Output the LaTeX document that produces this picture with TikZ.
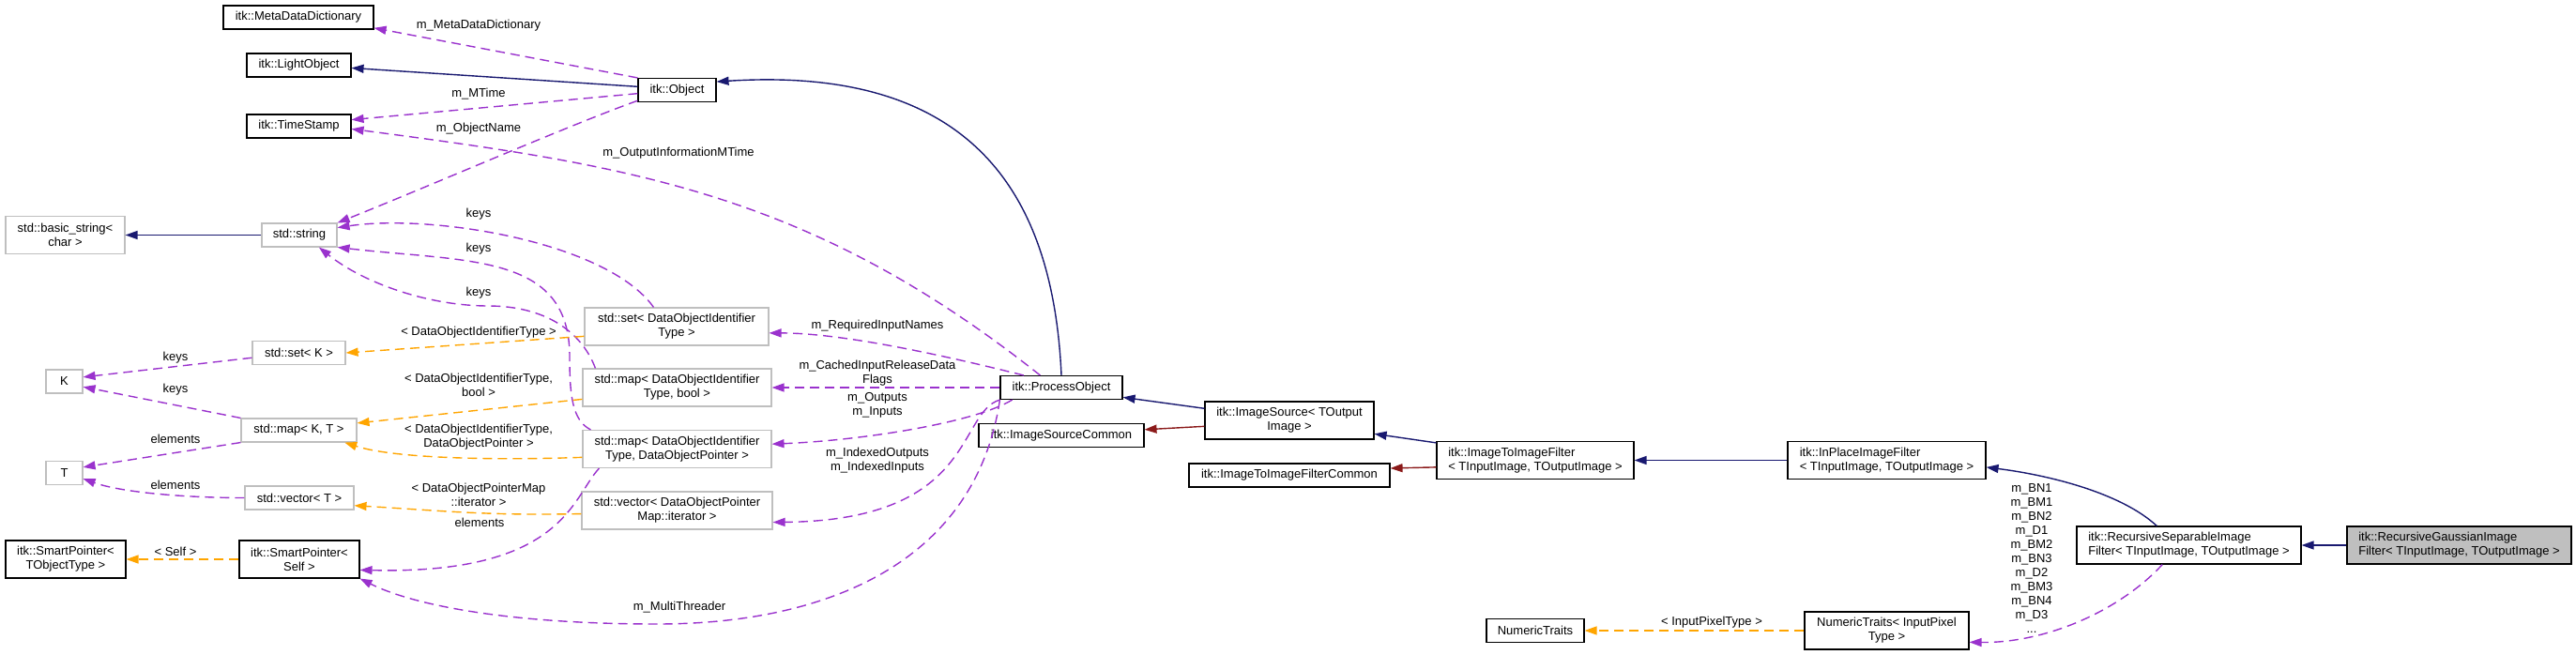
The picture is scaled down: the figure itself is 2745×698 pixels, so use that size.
\documentclass[tikz,border=0pt]{standalone}
\usepackage{fontspec}
\setmainfont{Liberation Sans}
\usetikzlibrary{arrows.meta,calc}
\definecolor{dxNavy}{HTML}{191970}
\definecolor{dxViolet}{HTML}{9A32CD}
\definecolor{dxOrange}{HTML}{FFA500}
\definecolor{dxRed}{HTML}{8B1A1A}
\definecolor{dxGrey}{HTML}{BFBFBF}
\tikzset{
  cls/.style     ={draw=black,fill=white,line width=1.1pt,inner sep=0pt,align=center,
                   minimum height=25},
  cls2/.style    ={cls,minimum height=40},
  ext/.style     ={cls,draw=dxGrey},
  ext2/.style    ={cls2,draw=dxGrey},
  dxtip/.style   ={-{Triangle[length=13pt,width=9pt]}},
  inh/.style     ={dxtip,dxNavy,line width=1.4pt},
  pinh/.style    ={dxtip,dxRed,line width=1.4pt},
  member/.style  ={dxtip,dxViolet,line width=1.4pt,dash pattern=on 10pt off 6pt},
  tmpl/.style    ={member,dxOrange},
  lbl/.style     ={align=center,inner sep=0pt},
}

\begin{document}
\begin{tikzpicture}[x=1pt,y=-1pt,font=\fontsize{13}{15}\selectfont]
\useasboundingbox (0,0) rectangle (2745,698);

%% classes
\node[cls,minimum width=160] (mdd)    at (318,18.5)   {itk::MetaDataDictionary};
\node[cls,minimum width=111] (light)  at (318.5,69.5) {itk::LightObject};
\node[cls,minimum width=111] (tstamp) at (318.5,134.5){itk::TimeStamp};
\node[cls,minimum width=83]  (obj)    at (721.5,96)   {itk::Object};
\node[ext2,minimum width=127] (bstr)  at (69.5,250.5) {std::basic\_string<\\char >};
\node[ext,minimum width=80]  (str)    at (319,250.5)  {std::string};
\node[ext,minimum width=99]  (setk)   at (318.5,376)  {std::set< K >};
\node[ext,minimum width=39]  (keyK)   at (68.5,406.5) {K};
\node[ext,minimum width=123] (mapkt)  at (318.5,458.5){std::map< K, T >};
\node[ext,minimum width=39]  (valT)   at (68.5,504)   {T};
\node[ext,minimum width=116] (vect)   at (319,530.5)  {std::vector< T >};
\node[cls2,minimum width=128] (sptr)  at (70,596)     {itk::SmartPointer<\\TObjectType >};
\node[cls2,minimum width=128] (sself) at (319,596)    {itk::SmartPointer<\\Self >};

\node[ext2,minimum width=196] (setid)   at (721,348)    {std::set< DataObjectIdentifier\\Type >};
\node[ext2,minimum width=201] (mapbool) at (721.5,413)  {std::map< DataObjectIdentifier\\Type, bool >};
\node[ext2,minimum width=201] (mapptr)  at (721.5,478.5){std::map< DataObjectIdentifier\\Type, DataObjectPointer >};
\node[ext2,minimum width=203] (vecit)   at (721.5,544)  {std::vector< DataObjectPointer\\Map::iterator >};

\node[cls,minimum width=130] (proc)  at (1131,413)  {itk::ProcessObject};
\node[cls,minimum width=176] (isc)   at (1131,464)  {itk::ImageSourceCommon};
\node[cls2,minimum width=180] (isrc) at (1374,448)  {itk::ImageSource< TOutput\\Image >};
\node[cls,minimum width=214] (iicom) at (1374,506.5){itk::ImageToImageFilterCommon};
\node[cls2,minimum width=210,align=left] (ii)      at (1636,490.5)  {itk::ImageToImageFilter\\< TInputImage, TOutputImage >};
\node[cls2,minimum width=211,align=left] (inplace) at (2010.5,490.5){itk::InPlaceImageFilter\\< TInputImage, TOutputImage >};
\node[cls2,minimum width=239,align=left] (rsep)    at (2332.5,581)  {itk::RecursiveSeparableImage\\Filter< TInputImage, TOutputImage >};
\node[cls2,minimum width=239,align=left,fill=dxGrey] (rgauss) at (2620.5,581) {itk::RecursiveGaussianImage\\Filter< TInputImage, TOutputImage >};
\node[cls,minimum width=104] (nt)     at (1636,672)   {NumericTraits};
\node[cls2,minimum width=175] (ntpix) at (2010.5,672) {NumericTraits< InputPixel\\Type >};

%% inheritance
\draw[inh] (obj.175) -- (light.-3);
\draw[inh] (proc.north) .. controls +(-9,-200) and +(267,-17) .. (obj.12);
\draw[inh] (isrc.172) -- (proc.-9);
\draw[pinh] (isrc.184) -- (isc.4);
\draw[inh] (ii.170) -- (isrc.-9);
\draw[pinh] (ii.184) -- (iicom.4);
\foreach \a/\b in {str/bstr,inplace/ii,rgauss/rsep} { \draw[inh] (\a.west) -- (\b.east); }
\draw[inh] (rsep.149) .. controls +(-39,-36) and +(64,8) .. (inplace.-4);

%% members
\draw[member] (obj.north west) -- (mdd.-8);
\draw[member] (obj.185) -- (tstamp.7);
\draw[member] (proc.150) .. controls +(-246,-195) and +(297,39) .. (tstamp.-3);
\draw[member] (obj.195) .. controls +(-70,25) and +(100,-40) .. (str.north east);
\draw[member] (setid.140) .. controls +(-50,-70) and +(100,-15) .. (str.11);
\draw[member] ($(mapptr.north west)+(9,0)$) .. controls +(-20,-10) and +(0,40) .. (607,380)
  .. controls +(0,-110) and +(141,16) .. (str.south east);
\draw[member] ($(mapbool.north west)+(14,0)$) .. controls +(-15,-40) and +(60,0) .. (520,326)
  .. controls +(-60,0) and +(50,40) .. (str.-32);
\draw[member] ($(mapptr.south west)+(18,0)$) .. controls +(-29,31) and +(217,5) .. (sself.-10);
\draw[member] (proc.south west) .. controls +(-26,174) and +(180,0) .. (700,665)
  .. controls +(-150,0) and +(60,30) .. (sself.south east);
\draw[member] (proc.162) .. controls +(-80,-20) and +(80,0) .. (setid.-4);
\draw[member] (proc.west) -- (mapbool.east);
\draw[member] (proc.194) .. controls +(-39,24) and +(98,-4) .. (mapptr.3);
\draw[member] (proc.south west) .. controls +(-46,14) and +(217,-2) .. (vecit.-7);
\draw[member] (rsep.216) .. controls +(-45,49) and +(82,1) .. (ntpix.-8);
\draw[member] (setk.186) -- (keyK.13);
\draw[member] (mapkt.north west) -- (keyK.-16);
\draw[member] (mapkt.south west) -- (valT.17);
\draw[member] (vect.west) .. controls +(-60,0) and +(42,15) .. (valT.-17);

%% template instances
\draw[tmpl] (setid.186) -- (setk.east);
\draw[tmpl] (mapbool.187) -- (mapkt.7);
\draw[tmpl] (mapptr.185) .. controls +(-81,3) and +(56,18) .. (mapkt.-15);
\draw[tmpl] (vecit.182) .. controls +(-100,2) and +(100,6) .. (vect.-8);
\draw[tmpl] (sself.west) -- (sptr.east);
\draw[tmpl] (ntpix.west) -- (nt.east);

%% labels
\node[lbl] (lmdd)   at (510,27)   {m\_MetaDataDictionary};
\node[lbl] (lmtime) at (510,100)  {m\_MTime};
\node[lbl] (lname)  at (510,137)  {m\_ObjectName};
\node[lbl] (loim)   at (723,163)  {m\_OutputInformationMTime};
\node[lbl] (lkey1)  at (510,228)  {keys};
\node[lbl] (lkey2)  at (510,265)  {keys};
\node[lbl] (lkey3)  at (510,312)  {keys};
\node[lbl] (lkey4)  at (187,381)  {keys};
\node[lbl] (lkey5)  at (187,415)  {keys};
\node[lbl] (lelem1) at (187,468)  {elements};
\node[lbl] (lelem2) at (187,517)  {elements};
\node[lbl] (lelem3) at (511,557)  {elements};
\node[lbl] (ltset)  at (510,354)  {< DataObjectIdentifierType >};
\node[lbl] (ltbool) at (510,410)  {< DataObjectIdentifierType,\\bool >};
\node[lbl] (ltptr)  at (510,466)  {< DataObjectIdentifierType,\\DataObjectPointer >};
\node[lbl] (ltit)   at (510,527)  {< DataObjectPointerMap\\::iterator >};
\node[lbl] (lself)  at (187,588)  {< Self >};
\node[lbl] (lmt)    at (724,647)  {m\_MultiThreader};
\node[lbl] (lreq)   at (935,347)  {m\_RequiredInputNames};
\node[lbl] (lcache) at (935,398)  {m\_CachedInputReleaseData\\Flags};
\node[lbl] (lio)    at (935,432)  {m\_Outputs\\m\_Inputs};
\node[lbl] (lidx)   at (935,491)  {m\_IndexedOutputs\\m\_IndexedInputs};
\node[lbl] (lpix)   at (1824,663) {< InputPixelType >};
\node[lbl] (lcoef)  at (2165,595) {m\_BN1\\m\_BM1\\m\_BN2\\m\_D1\\m\_BM2\\m\_BN3\\m\_D2\\m\_BM3\\m\_BN4\\m\_D3\\...};
\end{tikzpicture}
\end{document}
